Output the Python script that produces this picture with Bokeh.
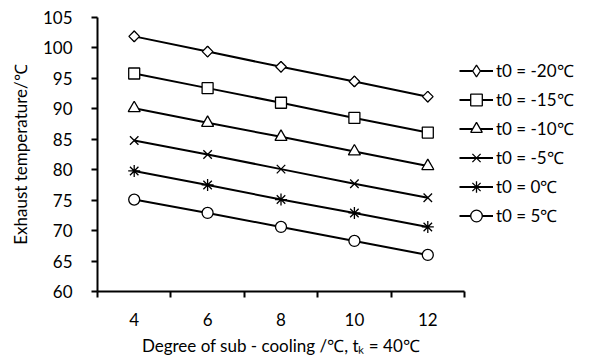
from bokeh.plotting import figure
from bokeh.models import FixedTicker, Legend, LegendItem
from bokeh.embed import file_html
from bokeh.resources import INLINE
import math

subcooling = [4, 6, 8, 10, 12]
t_m20 = [101.9, 99.4, 96.9, 94.5, 92.0]
t_m15 = [95.8, 93.4, 91.0, 88.5, 86.1]
t_m10 = [90.1, 87.7, 85.4, 83.0, 80.6]
t_m5 = [84.8, 82.5, 80.1, 77.7, 75.4]
t_0 = [79.8, 77.5, 75.1, 72.9, 70.6]
t_5 = [75.1, 72.9, 70.6, 68.3, 66.0]
series_names = ["t0 = -20℃", "t0 = -15℃", "t0 = -10℃", "t0 = -5℃", "t0 = 0℃", "t0 = 5℃"]
y_ticks = [60, 65, 70, 75, 80, 85, 90, 95, 100, 105]

FONT = "Lato"
FS = "17px"

p = figure(width=591, height=358, output_backend="svg", toolbar_location=None,
           x_range=(3, 13), y_range=(60, 105),
           frame_width=367, frame_height=274,
           min_border_left=97, min_border_right=127, min_border_top=17, min_border_bottom=67)
p.outline_line_color = None
p.xgrid.visible = False
p.ygrid.visible = False
p.background_fill_color = "white"
p.border_fill_color = "white"

markers = [
    dict(marker="square", angle=math.pi / 4, size=7.5),
    dict(marker="square", size=11),
    dict(marker="triangle", size=12),
    dict(marker="x", size=12),
    dict(marker="asterisk", size=12),
    dict(marker="circle", size=11),
]
data = [t_m20, t_m15, t_m10, t_m5, t_0, t_5]
items = []
for i, (name, ys, mk) in enumerate(zip(series_names, data, markers)):
    ln = p.line(subcooling, ys, line_color="black", line_width=2)
    if i == 0:
        # rhombus used for the legend swatch; covered in the plot by the rotated square
        sw = p.scatter(subcooling, ys, marker="diamond", size=10.5, fill_color="white",
                       line_color="black", line_width=1.3)
    sc = p.scatter(subcooling, ys, fill_color="white", line_color="black", line_width=1.3, **mk)
    if i == 0:
        items.append(LegendItem(label=name, renderers=[ln, sw]))
    else:
        items.append(LegendItem(label=name, renderers=[ln, sc]))

legend = Legend(items=items, location=(-5, 61), margin=0, padding=0, spacing=0,
                glyph_width=34, glyph_height=29, label_height=29, label_standoff=3,
                label_text_font=FONT, label_text_font_size=FS, label_text_color="black",
                border_line_color=None, background_fill_alpha=0)
p.add_layout(legend, "right")

xa = p.xaxis[0]
xa.ticker = FixedTicker(ticks=subcooling, minor_ticks=[3, 5, 7, 9, 11, 13])
xa.major_tick_line_color = None
xa.major_tick_out = 0
xa.major_tick_in = 0
xa.minor_tick_out = 6
xa.minor_tick_in = 0
xa.minor_tick_line_color = "black"
xa.minor_tick_line_width = 2
xa.axis_line_width = 2
xa.axis_line_color = "black"
xa.major_label_standoff = 15
xa.major_label_text_font = FONT
xa.major_label_text_font_size = FS
xa.major_label_text_color = "black"
xa.axis_label = "Degree of sub - cooling /℃, tₖ = 40℃"
xa.axis_label_text_font = FONT
xa.axis_label_text_font_size = FS
xa.axis_label_text_font_style = "normal"
xa.axis_label_text_color = "black"
xa.axis_label_standoff = 6

ya = p.yaxis[0]
ya.ticker = FixedTicker(ticks=y_ticks)
ya.minor_tick_line_color = None
ya.major_tick_out = 6
ya.major_tick_in = 0
ya.major_tick_line_width = 2
ya.major_tick_line_color = "black"
ya.axis_line_width = 2
ya.axis_line_color = "black"
ya.major_label_standoff = 19
ya.major_label_text_font = FONT
ya.major_label_text_font_size = FS
ya.major_label_text_color = "black"
ya.axis_label = "Exhaust temperature/℃"
ya.axis_label_text_font = FONT
ya.axis_label_text_font_size = FS
ya.axis_label_text_font_style = "normal"
ya.axis_label_text_color = "black"
ya.axis_label_standoff = 9

open("out.html", "w").write(file_html(p, INLINE))
